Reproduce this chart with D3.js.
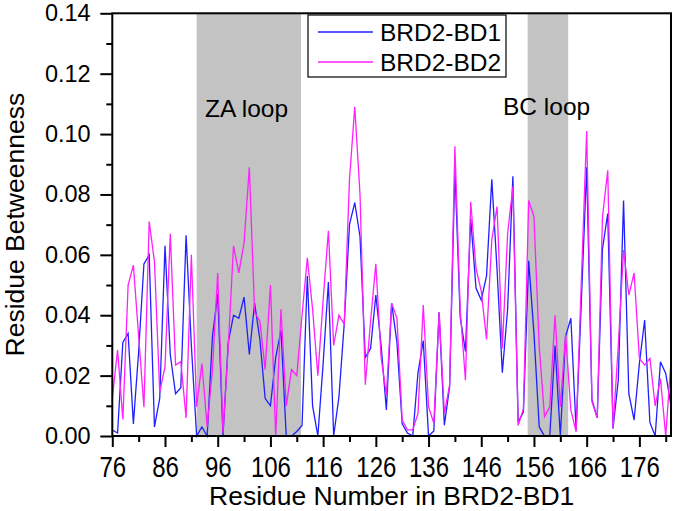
<!DOCTYPE html>
<html>
<head>
<meta charset="utf-8">
<script src="https://cdn.jsdelivr.net/npm/d3@7"></script>
<style>
html,body{margin:0;padding:0;background:#fff;}
svg{display:block;font-family:"Liberation Sans",Arial,sans-serif;}
</style>
</head>
<body>
<svg id="chart" width="675" height="511"></svg>
<script>
// ---- data ----
const residueStart = 76;
const residueEnd = 182;
const bd1Values = [
  0.002,0.001,0.031,0.034,0.004,0.028,0.057,0.060,0.003,0.0125,
  0.063,0.027,0.014,0.016,0.0665,0.030,0.000,0.003,0.000,0.033,
  0.047,0.000,0.031,0.040,0.039,0.046,0.027,0.044,0.032,0.0125,
  0.010,0.026,0.035,0.000,0.000,0.0015,0.0035,0.053,0.010,0.000,
  0.024,0.051,0.000,0.013,0.037,0.070,0.0773,0.066,0.026,0.029,
  0.0467,0.030,0.0086,0.044,0.031,0.004,0.001,0.000,0.021,0.0316,
  0.000,0.0017,0.041,0.0036,0.0163,0.0886,0.0395,0.028,0.072,0.049,
  0.045,0.053,0.085,0.055,0.021,0.042,0.086,0.0045,0.008,0.058,
  0.034,0.003,0.000,0.000,0.030,0.000,0.033,0.039,0.002,0.045,
  0.089,0.012,0.006,0.062,0.0737,0.0025,0.0185,0.078,0.014,0.0053,
  0.024,0.0384,0.0045,0.000,0.0246,0.0207,0.010
];
const bd2Values = [
  0.0125,0.0285,0.0055,0.050,0.0566,0.033,0.0095,0.071,0.0577,0.0145,
  0.023,0.067,0.0235,0.0246,0.006,0.060,0.0097,0.024,0.003,0.022,
  0.054,0.001,0.0296,0.063,0.054,0.064,0.089,0.041,0.038,0.022,
  0.050,0.000,0.042,0.010,0.022,0.020,0.040,0.059,0.042,0.020,
  0.045,0.068,0.030,0.040,0.037,0.085,0.109,0.080,0.017,0.038,
  0.057,0.026,0.0136,0.044,0.039,0.0053,0.002,0.002,0.0075,0.0434,
  0.0097,0.0042,0.041,0.0075,0.017,0.096,0.042,0.0185,0.0776,0.0555,
  0.048,0.032,0.065,0.076,0.029,0.067,0.0826,0.0035,0.009,0.078,
  0.0726,0.0296,0.0064,0.0097,0.040,0.0097,0.0334,0.0086,0.0014,0.052,
  0.101,0.0114,0.006,0.0726,0.088,0.0025,0.030,0.0616,0.0467,0.054,
  0.0257,0.0235,0.0257,0.010,0.019,0.000,0.025
];
const seriesNames = ["BRD2-BD1","BRD2-BD2"];
const seriesColors = ["#1f1fff","#ff1fff"];
const loopNames = ["ZA loop","BC loop"];
const loopStarts = [92, 154.8];
const loopEnds = [111.8, 162.5];
const xTickValues = [76,86,96,106,116,126,136,146,156,166,176];
const yTickValues = [0,0.02,0.04,0.06,0.08,0.10,0.12,0.14];

const residues = d3.range(residueStart, residueEnd + 1);

// ---- layout ----
const svg = d3.select("#chart");
const L = 112.3, R = 671, T = 13.3, B = 436;
const x = d3.scaleLinear().domain([residueStart, residueEnd]).range([L, R]);
const y = d3.scaleLinear().domain([0, 0.14]).range([B, T]);
const FONT = "Liberation Sans, Arial, sans-serif";

// shaded loop regions
svg.append("g").selectAll("rect").data(loopStarts).join("rect")
  .attr("x", (d) => x(d))
  .attr("y", T)
  .attr("width", (d, i) => x(loopEnds[i]) - x(d))
  .attr("height", B - T)
  .attr("fill", "#c3c3c3");

// loop labels
svg.append("text").attr("x", 205).attr("y", 117).attr("font-size", 24.5).text(loopNames[0]);
svg.append("text").attr("x", 503).attr("y", 115).attr("font-size", 24.5).text(loopNames[1]);

// lines
const series = [bd1Values, bd2Values];
const line = d3.line().x((d, i) => x(residues[i])).y((d) => y(d));
series.forEach((vals, k) => {
  svg.append("path").datum(vals)
    .attr("d", line)
    .attr("fill", "none")
    .attr("stroke", seriesColors[k])
    .attr("stroke-width", 1.3)
    .attr("stroke-linejoin", "miter");
});

// frame
svg.append("rect").attr("x", L).attr("y", T).attr("width", R - L).attr("height", B - T)
  .attr("fill", "none").attr("stroke", "#000").attr("stroke-width", 2);

// x axis
const xAxis = d3.axisBottom(x).tickValues(xTickValues).tickSize(11).tickFormat(d3.format("d"));
const gx = svg.append("g").attr("transform", `translate(0,${B})`).call(xAxis);
gx.select(".domain").remove();
gx.selectAll(".tick line").attr("stroke-width", 2);
gx.selectAll(".tick text")
  .attr("font-size", 24).attr("font-family", FONT).attr("fill", "#000")
  .attr("y", null).attr("dy", null)
  .attr("transform", "translate(0,40.7) scale(1,1.2)");
const xMinor = d3.axisBottom(x).tickValues(xTickValues.map(v => v + 5).filter(v => v <= residueEnd)).tickSize(6).tickFormat("");
const gxm = svg.append("g").attr("transform", `translate(0,${B})`).call(xMinor);
gxm.select(".domain").remove();
gxm.selectAll(".tick line").attr("stroke-width", 2);

// y axis
const yAxis = d3.axisLeft(y).tickValues(yTickValues).tickSize(12).tickPadding(9.6).tickFormat(d3.format(".2f"));
const gy = svg.append("g").attr("transform", `translate(${L},0)`).call(yAxis);
gy.select(".domain").remove();
gy.selectAll(".tick line").attr("stroke-width", 2);
gy.selectAll(".tick text").attr("font-size", 23.5).attr("font-family", FONT).attr("fill", "#000");
const yMinor = d3.axisLeft(y).tickValues(yTickValues.slice(0, -1).map(v => v + 0.01)).tickSize(6).tickFormat("");
const gym = svg.append("g").attr("transform", `translate(${L},0)`).call(yMinor);
gym.select(".domain").remove();
gym.selectAll(".tick line").attr("stroke-width", 2);

// axis titles
svg.append("text").attr("x", (L + R) / 2).attr("y", 505).attr("text-anchor", "middle")
  .attr("font-size", 26.5).text("Residue Number in BRD2-BD1");
svg.append("text").attr("transform", `translate(23.5,${(T + B) / 2}) rotate(-90)`).attr("text-anchor", "middle")
  .attr("font-size", 26.5).text("Residue Betweenness");

// legend
const lg = svg.append("g");
lg.append("rect").attr("x", 308).attr("y", 15).attr("width", 198).attr("height", 62)
  .attr("fill", "#fff").attr("stroke", "#000").attr("stroke-width", 1.2);
seriesNames.forEach((name, k) => {
  const yy = 32 + k * 30;
  lg.append("line").attr("x1", 318).attr("x2", 373).attr("y1", yy).attr("y2", yy)
    .attr("stroke", seriesColors[k]).attr("stroke-width", 1.3);
  lg.append("text").attr("x", 380).attr("y", yy + 9).attr("font-size", 24.5).text(name);
});
</script>
</body>
</html>
